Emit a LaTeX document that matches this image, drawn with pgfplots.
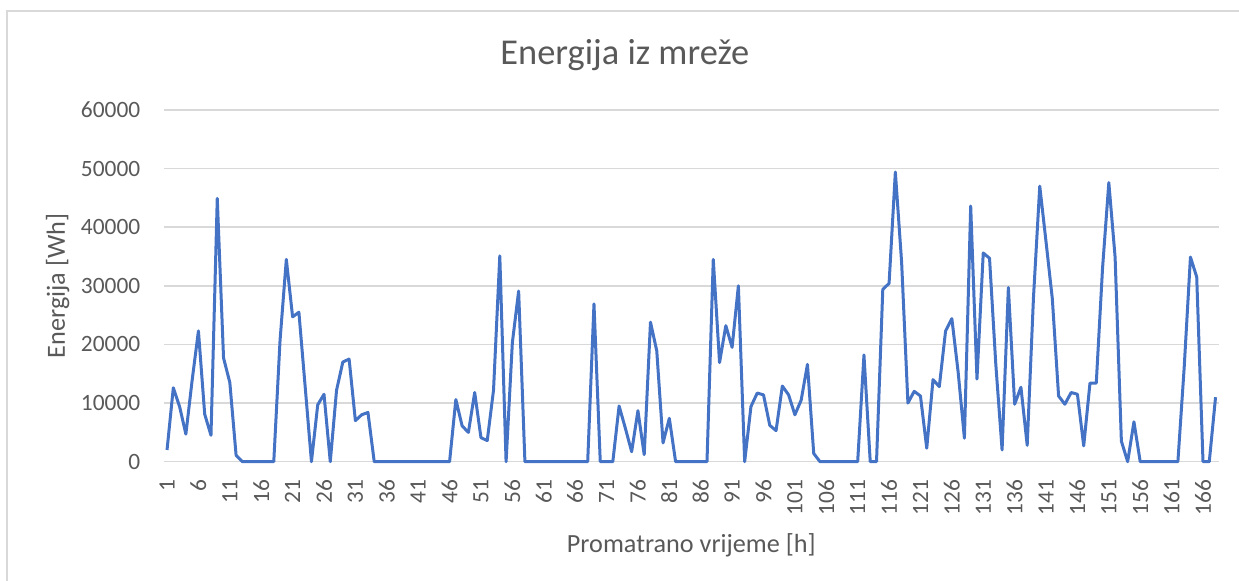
\documentclass[border=0pt]{standalone}
\usepackage{pgfplots}
\pgfplotsset{compat=1.18}
\usepackage{pgfplotstable}
\usepackage{fontspec}
\setmainfont{Carlito}
\definecolor{lineblue}{HTML}{4472C4}
\definecolor{gridgray}{HTML}{D9D9D9}
\definecolor{txtgray}{HTML}{595959}

\pgfplotstableread{
h E
1 2000
2 12600
3 9400
4 4700
5 13900
6 22300
7 8100
8 4500
9 44900
10 17700
11 13500
12 1100
13 0
14 0
15 0
16 0
17 0
18 0
19 20700
20 34500
21 24700
22 25500
23 12800
24 0
25 9700
26 11500
27 0
28 12200
29 17000
30 17500
31 7000
32 8000
33 8400
34 0
35 0
36 0
37 0
38 0
39 0
40 0
41 0
42 0
43 0
44 0
45 0
46 0
47 10600
48 6100
49 5000
50 11800
51 4100
52 3600
53 12200
54 35100
55 0
56 20300
57 29100
58 0
59 0
60 0
61 0
62 0
63 0
64 0
65 0
66 0
67 0
68 0
69 26900
70 0
71 0
72 0
73 9500
74 5700
75 1700
76 8700
77 1200
78 23800
79 18900
80 3200
81 7400
82 0
83 0
84 0
85 0
86 0
87 0
88 34500
89 16900
90 23200
91 19500
92 30000
93 0
94 9400
95 11700
96 11400
97 6200
98 5300
99 12900
100 11400
101 8000
102 10500
103 16600
104 1400
105 0
106 0
107 0
108 0
109 0
110 0
111 0
112 18200
113 0
114 0
115 29400
116 30400
117 49400
118 34000
119 10000
120 12000
121 11200
122 2300
123 14000
124 12800
125 22300
126 24400
127 15300
128 4000
129 43600
130 14100
131 35600
132 34700
133 16600
134 2000
135 29700
136 9800
137 12700
138 2800
139 28000
140 47000
141 37500
142 27800
143 11200
144 9800
145 11800
146 11500
147 2700
148 13400
149 13400
150 33000
151 47600
152 34900
153 3500
154 0
155 6800
156 0
157 0
158 0
159 0
160 0
161 0
162 0
163 16000
164 34900
165 31500
166 0
167 0
168 11000
}\datatable

\begin{document}
\begin{tikzpicture}
\useasboundingbox (-81.95pt,-59.65pt) rectangle (537.55pt,230.85pt);
\draw[gridgray, line width=0.6pt] (-78.45pt,-60pt) -- (-78.45pt,225.35pt) -- (538pt,225.35pt);
\begin{axis}[
  at={(0pt,0pt)}, anchor=south west,
  scale only axis,
  width=527.4pt, height=175.9pt,
  xmin=0.5, xmax=168.5,
  ymin=0, ymax=60000,
  clip=false,
  axis line style={draw=none},
  major tick length=0pt,
  ymajorgrids,
  grid style={gridgray, line width=0.8pt},
  xtick={1,6,...,166},
  ytick={0,10000,...,60000},
  scaled ticks=false,
  /pgf/number format/assume math mode=true,
  /pgf/number format/1000 sep={},
  tick label style={font=\fontsize{11.7}{14}\selectfont, text=txtgray},
  xticklabel style={rotate=90, anchor=east, inner sep=0pt},
  xticklabel shift=8.8pt,
  yticklabel style={anchor=east, inner sep=0pt},
  yticklabel shift=11.6pt,
  title={Energija iz mreže},
  every axis title/.style={at={(axis description cs:0.437,1.1296)}, anchor=base, font=\fontsize{18.2}{21}\selectfont, text=txtgray},
  xlabel={Promatrano vrijeme [h]},
  ylabel={Energija [Wh]},
  every axis x label/.style={at={(axis description cs:0.5,-0.2595)}, anchor=base, font=\fontsize{13.1}{16}\selectfont, text=txtgray},
  every axis y label/.style={at={(axis description cs:-0.0939,0.5)}, rotate=90, anchor=base, font=\fontsize{13.1}{16}\selectfont, text=txtgray},
]
\addplot[lineblue, line width=1.5pt, line join=round, no marks] table[x=h, y=E] {\datatable};
\end{axis}
\end{tikzpicture}
\end{document}
